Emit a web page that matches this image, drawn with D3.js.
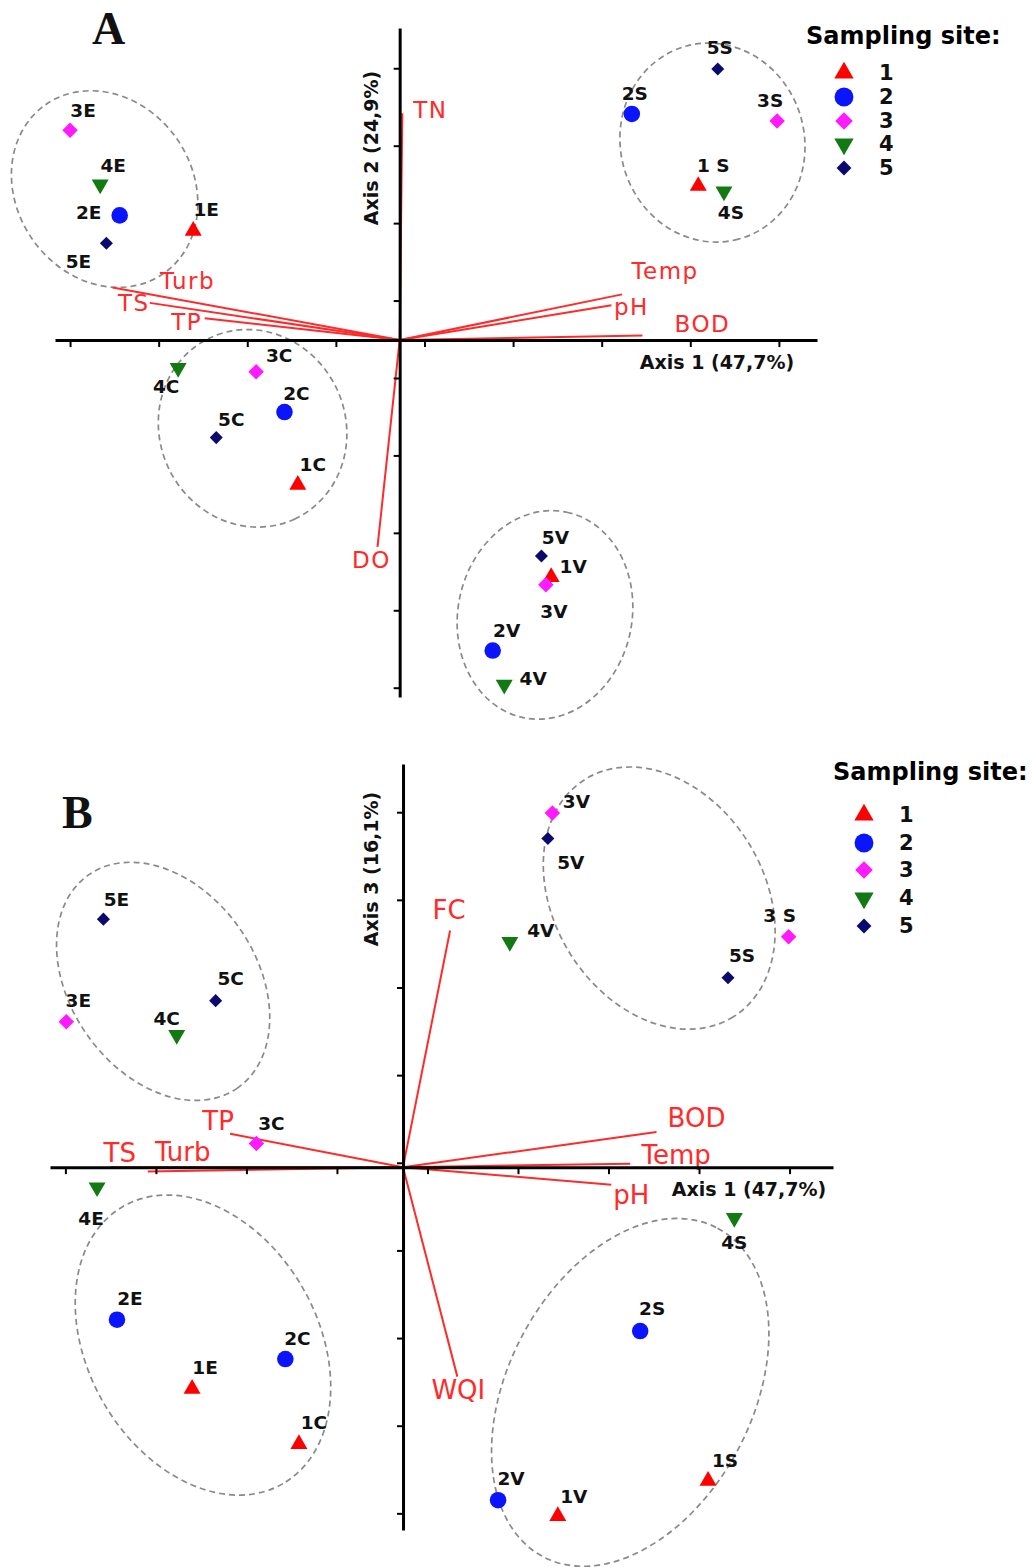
<!DOCTYPE html>
<html>
<head>
<meta charset="utf-8">
<script src="https://cdnjs.cloudflare.com/ajax/libs/d3/7.8.5/d3.min.js"></script>
<style>
	body { margin: 0; background: #fff; }
	svg { display: block; }
	.grp { fill: none; stroke: #8a8a8a; stroke-width: 1.7; stroke-dasharray: 6,4; }
	.vec { stroke: #ff2a2a; stroke-width: 2; }
	.vec-label { fill: #ff2a2a; font-family: "DejaVu Sans", sans-serif; }
	.axis .domain { stroke: #000; stroke-width: 3; }
	.axis .tick line { stroke: #000; stroke-width: 2; }
	.pt-label { font-family: "DejaVu Sans", sans-serif; font-weight: bold; font-size: 18.5px; fill: #111; }
	.ax-title { font-family: "DejaVu Sans", sans-serif; font-weight: bold; font-size: 19px; fill: #111; }
	.leg-title { font-family: "DejaVu Sans", sans-serif; font-weight: bold; font-size: 24px; fill: #000; }
	.leg-num { font-family: "DejaVu Sans", sans-serif; font-weight: bold; font-size: 21px; fill: #111; }
	.panel-id { font-family: "Liberation Serif", serif; font-weight: bold; font-size: 46px; fill: #111; }
</style>
</head>
<body>
<svg id="pca" width="1034" height="1567"></svg>
<script>
// sample = site number + season letter
var samples = ["1E","2E","3E","4E","5E","1C","2C","3C","4C","5C","1S","2S","3S","4S","5S","1V","2V","3V","4V","5V"];
// scores (units = one tick step)
var axis1 = [-2.33,-3.16,-3.72,-3.38,-3.31, -1.15,-1.30,-1.62,-2.50,-2.07, 3.37,2.62,4.26,3.66,3.59, 1.71,1.05,1.65,1.18,1.60];
var axis2 = [1.41,1.61,2.71,2.01,1.25, -1.87,-0.93,-0.41,-0.36,-1.26, 1.99,2.92,2.83,1.92,3.50, -3.06,-4.01,-3.16,-4.45,-2.79];
var axis3 = [-2.53,-1.74,1.66,-0.23,2.83, -3.16,-2.19,0.27,1.51,1.90, -3.58,-1.87,2.63,-0.58,2.16, -3.98,-3.80,4.04,2.57,3.75];
var labelsA = ["1E","2E","3E","4E","5E","1C","2C","3C","4C","5C","1 S","2S","3S","4S","5S","1V","2V","3V","4V","5V"];
var labelsB = ["1E","2E","3E","4E","5E","1C","2C","3C","4C","5C","1S","2S","3 S","4S","5S","1V","2V","3V","4V","5V"];

var sites = ["1","2","3","4","5"];
var siteColors = ["#ff0000","#0a14ff","#ff1aff","#137a13","#0a0a6e"];

// variable loadings
var varsA = ["TN","Temp","pH","BOD","Turb","TS","TP","DO"];
var loadA1 = [0.03, 2.51, 2.39, 2.74, -3.24, -2.82, -2.20, -0.25];
var loadA2 = [2.93, 0.59, 0.45, 0.06, 0.68, 0.48, 0.28, -2.67];
var varsB = ["FC","BOD","Temp","pH","WQI","TP","TS","Turb"];
var loadB1 = [0.52, 2.80, 2.51, 2.30, 0.60, -1.91, -2.82, -3.24];
var loadB3 = [2.70, 0.40, 0.04, -0.20, -2.39, 0.38, -0.05, 0.00];

// tick marks (unlabelled)
var ticksA1 = [-3.72,-2.72,-1.72,-0.72,0.28,1.28,2.28,3.28,4.28];
var ticksA2 = [-4.49,-3.49,-2.49,-1.49,-0.49,0.51,1.51,2.51,3.51];
var ticksB1 = [-3.73,-2.73,-1.73,-0.73,0.27,1.27,2.27,3.27,4.27];
var ticksB3 = [-3.95,-2.95,-1.95,-0.95,0.05,1.05,2.05,3.05,4.05];

var svg = d3.select("#pca");

function siteOf(s) { return sites.indexOf(s.charAt(0)); }

function symbolFor(si, big) {
	var k = big ? 1.3 : 1;
	if (si == 0) return { path: d3.symbol().type(d3.symbolTriangle).size(125 * k)(), rot: 0 };
	if (si == 1) return { path: d3.symbol().type(d3.symbolCircle).size(215 * k)(), rot: 0 };
	if (si == 2) return { path: d3.symbol().type(d3.symbolSquare).size(120 * k)(), rot: 45 };
	if (si == 3) return { path: d3.symbol().type(d3.symbolTriangle).size(125 * k)(), rot: 180 };
	return { path: d3.symbol().type(d3.symbolSquare).size(85 * k)(), rot: 45 };
}

function drawPanel(p) {
	var g = svg.append("g");
	var x = d3.scaleLinear().domain(p.xDomain).range(p.xRange);
	var y = d3.scaleLinear().domain(p.yDomain).range(p.yRange);

	// dashed cluster outlines
	g.selectAll(".grp")
		.data(p.groups)
		.enter().append("ellipse")
		.attr("class", "grp")
		.attr("rx", function (d) { return d.rx; })
		.attr("ry", function (d) { return d.ry; })
		.attr("transform", function (d) { return "translate(" + x(d.cx) + "," + y(d.cy) + ") rotate(" + d.rot + ")"; });

	// loading vectors
	g.selectAll(".vec")
		.data(p.vars)
		.enter().append("line")
		.attr("class", "vec")
		.attr("x1", x(0))
		.attr("y1", y(0))
		.attr("x2", function (d, i) { return x(p.l1[i]); })
		.attr("y2", function (d, i) { return y(p.l2[i]); });

	g.selectAll(".vec-label")
		.data(p.vars)
		.enter().append("text")
		.attr("class", "vec-label")
		.attr("x", function (d, i) { return x(p.l1[i]) + p.varOff[d][0]; })
		.attr("y", function (d, i) { return y(p.l2[i]) + p.varOff[d][1]; })
		.attr("text-anchor", "middle")
		.attr("dominant-baseline", "central")
		.style("font-size", p.varFont + "px")
		.style("letter-spacing", p.varSpacing + "px")
		.text(function (d) { return d; });

	// axes through the origin
	g.append("g")
		.attr("class", "axis")
		.attr("transform", "translate(0," + y(0) + ")")
		.call(d3.axisBottom(x).tickValues(p.xTicks).tickSize(7).tickSizeOuter(0).tickFormat(""));

	g.append("g")
		.attr("class", "axis")
		.attr("transform", "translate(" + x(0) + ",0)")
		.call(d3.axisLeft(y).tickValues(p.yTicks).tickSize(6).tickSizeOuter(0).tickFormat(""));

	g.append("text")
		.attr("class", "ax-title")
		.attr("x", p.xTitle[0])
		.attr("y", p.xTitle[1])
		.attr("text-anchor", "middle")
		.attr("dominant-baseline", "central")
		.text(p.xName);

	g.append("text")
		.attr("class", "ax-title")
		.attr("transform", "translate(" + p.yTitle[0] + "," + p.yTitle[1] + ") rotate(-90)")
		.attr("text-anchor", "middle")
		.attr("dominant-baseline", "central")
		.text(p.yName);

	// sample points
	g.selectAll(".pt")
		.data(samples)
		.enter().append("path")
		.attr("class", "pt")
		.attr("d", function (d) { return symbolFor(siteOf(d)).path; })
		.attr("fill", function (d) { return siteColors[siteOf(d)]; })
		.attr("transform", function (d, i) {
			return "translate(" + x(axis1[i]) + "," + y(p.ys[i]) + ") rotate(" + symbolFor(siteOf(d)).rot + ")";
		});

	g.selectAll(".pt-label")
		.data(samples)
		.enter().append("text")
		.attr("class", "pt-label")
		.attr("x", function (d, i) { return x(axis1[i]) + p.ptOff[d][0]; })
		.attr("y", function (d, i) { return y(p.ys[i]) + p.ptOff[d][1]; })
		.attr("text-anchor", "middle")
		.attr("dominant-baseline", "central")
		.text(function (d, i) { return p.names[i]; });

	// legend
	var leg = g.append("g").attr("transform", "translate(" + p.legend[0] + "," + p.legend[1] + ")");
	leg.append("text")
		.attr("class", "leg-title")
		.attr("x", 0)
		.attr("y", 0)
		.text("Sampling site:");
	leg.selectAll(".leg-pt")
		.data(sites)
		.enter().append("path")
		.attr("d", function (d, i) { return symbolFor(i, true).path; })
		.attr("fill", function (d, i) { return siteColors[i]; })
		.attr("transform", function (d, i) {
			return "translate(" + p.legendMark + "," + p.legendRows[i] + ") rotate(" + symbolFor(i, true).rot + ")";
		});
	leg.selectAll(".leg-num")
		.data(sites)
		.enter().append("text")
		.attr("class", "leg-num")
		.attr("x", p.legendMark + 35)
		.attr("y", function (d, i) { return p.legendRows[i]; })
		.attr("dominant-baseline", "central")
		.text(function (d) { return d; });

	g.append("text")
		.attr("class", "panel-id")
		.attr("x", p.id[0])
		.attr("y", p.id[1])
		.text(p.name);
}

drawPanel({
	name: "A",
	id: [92, 44],
	xDomain: [-3.89, 4.71], xRange: [55, 817],
	yDomain: [-4.61, 4.03], yRange: [697, 28],
	xTicks: ticksA1, yTicks: ticksA2,
	ys: axis2, names: labelsA,
	xName: "Axis 1 (47,7%)", xTitle: [717, 362],
	yName: "Axis 2 (24,9%)", yTitle: [371, 148],
	vars: varsA, l1: loadA1, l2: loadA2,
	varFont: 23, varSpacing: 1.5,
	varOff: { TN: [28, -3], Temp: [43, -23], pH: [20, 2], BOD: [60, -11], Turb: [75, -6], TS: [-16, 0], TP: [-18, 4], DO: [-6, 13] },
	ptOff: {
		"3E": [13, -20], "4E": [13, -19], "2E": [-31, -3], "1E": [13, -21], "5E": [-28, 18],
		"5S": [2, -22], "2S": [3, -20], "3S": [-7, -20], "1S": [15, -20], "4S": [7, 21],
		"4C": [-12, 19], "3C": [23, -16], "2C": [12, -19], "5C": [15, -18], "1C": [15, -20],
		"5V": [14, -19], "1V": [22, -10], "3V": [8, 27], "2V": [14, -20], "4V": [29, -6]
	},
	groups: [
		{ cx: -3.33, cy: 1.95, rx: 103, ry: 88, rot: 55 },
		{ cx: 3.53, cy: 2.55, rx: 100, ry: 92, rot: 75 },
		{ cx: -1.66, cy: -1.14, rx: 100, ry: 93, rot: 65 },
		{ cx: 1.64, cy: -3.55, rx: 105, ry: 87, rot: -78 }
	],
	legend: [806, 44], legendMark: 38, legendRows: [29, 53, 77, 100, 124]
});

drawPanel({
	name: "B",
	id: [62, 828],
	xDomain: [-3.90, 4.75], xRange: [50, 833],
	yDomain: [-4.14, 4.60], yRange: [1530, 764],
	xTicks: ticksB1, yTicks: ticksB3,
	ys: axis3, names: labelsB,
	xName: "Axis 1 (47,7%)", xTitle: [749, 1189],
	yName: "Axis 3 (16,1%)", yTitle: [371, 869],
	vars: varsB, l1: loadB1, l2: loadB3,
	varFont: 26, varSpacing: 0,
	varOff: { FC: [-1, -21], BOD: [40, -14], Temp: [46, -9], pH: [20, 10], WQI: [1, 13], TP: [-12, -13], TS: [-28, -19], Turb: [73, -15] },
	ptOff: {
		"3V": [24, -12], "5V": [23, 24], "4V": [31, -11], "3S": [-9, -21], "5S": [14, -22],
		"5E": [13, -20], "5C": [15, -22], "3E": [12, -21], "4C": [-10, -16], "3C": [15, -20],
		"4E": [-6, 31], "2E": [13, -21], "2C": [12, -21], "1E": [13, -21], "1C": [15, -22],
		"4S": [0, 25], "2S": [12, -23], "1S": [17, -20], "2V": [13, -22], "1V": [16, -19]
	},
	groups: [
		{ cx: -2.65, cy: 2.12, rx: 130, ry: 93, rot: 55 },
		{ cx: 2.83, cy: 3.07, rx: 140, ry: 105, rot: 58 },
		{ cx: -2.21, cy: -2.03, rx: 160, ry: 115, rot: 60 },
		{ cx: 2.51, cy: -2.57, rx: 186, ry: 122, rot: -62 }
	],
	legend: [833, 780], legendMark: 31, legendRows: [35, 63, 90, 118, 146]
});
</script>
</body>
</html>
